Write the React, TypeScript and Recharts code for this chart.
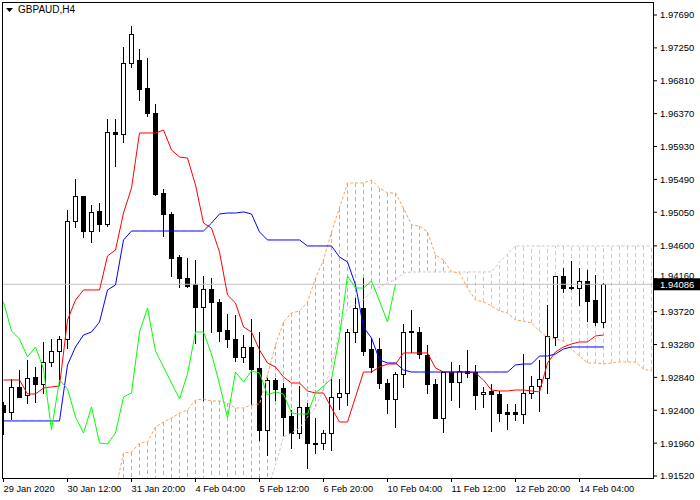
import { Bar, ComposedChart, Line, ReferenceLine, XAxis, YAxis } from 'recharts';

// GBPAUD H4 candles, one entry per bar (oldest first)
const opens = [
  1.92471, 1.92377, 1.92712, 1.92605, 1.92845, 1.92752, 1.93046, 1.93193, 1.93354, 1.94933,
  1.95268, 1.94799, 1.95067, 1.94893, 1.96124, 1.96097, 1.97048, 1.97088, 1.96713, 1.96379,
  1.95308, 1.95027, 1.94451, 1.9417, 1.9409, 1.93782, 1.94023, 1.93849, 1.93474, 1.93354,
  1.93113, 1.93247, 1.92966, 1.92136, 1.92805, 1.92698, 1.92323, 1.92096, 1.92444, 1.91962,
  1.91962, 1.92096, 1.92578, 1.92631, 1.93448, 1.93769, 1.9322, 1.9322, 1.92765, 1.92551,
  1.92886, 1.93461, 1.93448, 1.9314, 1.92752, 1.92297, 1.92912, 1.92778, 1.92926, 1.92912,
  1.92618, 1.92658, 1.92618, 1.92377, 1.92377, 1.9235, 1.92631, 1.92725, 1.92832, 1.93381,
  1.94197, 1.9405, 1.94036, 1.9413, 1.93876, 1.93581,
];
const highs = [
  1.92511, 1.92819, 1.92939, 1.93073, 1.92979, 1.93314, 1.93354, 1.93394, 1.9508, 1.95495,
  1.95268, 1.95147, 1.95174, 1.96298, 1.96298, 1.97262, 1.97543, 1.97235, 1.97115, 1.96499,
  1.95361, 1.95054, 1.94478, 1.94438, 1.94411, 1.94197, 1.9417, 1.93889, 1.93689, 1.93675,
  1.93407, 1.93622, 1.93448, 1.92832, 1.92832, 1.92765, 1.92404, 1.92725, 1.92497, 1.92297,
  1.92136, 1.92819, 1.92819, 1.93488, 1.93903, 1.9417, 1.93367, 1.93367, 1.92819, 1.92912,
  1.93555, 1.93742, 1.93515, 1.93274, 1.92819, 1.92912, 1.93046, 1.93006, 1.93207, 1.93006,
  1.92712, 1.92752, 1.92658, 1.92484, 1.92484, 1.93153, 1.92859, 1.93073, 1.93809, 1.94197,
  1.94304, 1.94398, 1.94304, 1.94277, 1.9421, 1.94103,
];
const lows = [
  1.92083, 1.92283, 1.92578, 1.92497, 1.92511, 1.92631, 1.92993, 1.92765, 1.93234, 1.94853,
  1.94719, 1.94652, 1.94799, 1.94866, 1.95669, 1.9599, 1.96994, 1.96553, 1.96338, 1.95281,
  1.94732, 1.94197, 1.9405, 1.9405, 1.933, 1.92538, 1.93448, 1.93327, 1.93247, 1.9306,
  1.93046, 1.92484, 1.92002, 1.91802, 1.92538, 1.92069, 1.91895, 1.92029, 1.91628, 1.91828,
  1.91882, 1.91868, 1.92417, 1.92471, 1.93314, 1.9314, 1.92912, 1.92698, 1.92364, 1.92176,
  1.92712, 1.9318, 1.931, 1.92631, 1.92297, 1.92109, 1.92538, 1.92444, 1.92845, 1.92417,
  1.92444, 1.92123, 1.92257, 1.92149, 1.9227, 1.9223, 1.92564, 1.9239, 1.92631, 1.93274,
  1.93983, 1.94023, 1.93809, 1.93595, 1.93541, 1.93515,
];
const closes = [
  1.92377, 1.92712, 1.92578, 1.92832, 1.92752, 1.93046, 1.93193, 1.93354, 1.94933, 1.95268,
  1.94799, 1.95054, 1.94893, 1.96124, 1.96097, 1.97048, 1.97436, 1.967, 1.96379, 1.95294,
  1.95027, 1.94438, 1.9417, 1.94063, 1.93782, 1.94023, 1.93849, 1.93461, 1.93354, 1.93113,
  1.93247, 1.92952, 1.92136, 1.92805, 1.92685, 1.9231, 1.92096, 1.92444, 1.91962, 1.91949,
  1.92096, 1.92578, 1.92631, 1.93448, 1.93769, 1.93193, 1.92979, 1.92765, 1.92551, 1.92886,
  1.93448, 1.93448, 1.93153, 1.92752, 1.92297, 1.92912, 1.92778, 1.92926, 1.92899, 1.92605,
  1.92645, 1.92618, 1.92364, 1.9235, 1.9235, 1.92631, 1.92725, 1.92819, 1.93394, 1.94197,
  1.94036, 1.94036, 1.9413, 1.93863, 1.93581, 1.94086,
];

// Ichimoku lines
const tenkan = [
  1.92805, 1.92805, 1.92805, 1.92618, 1.92618, 1.92698, 1.92712, 1.92725, 1.93608, 1.93876,
  1.9401, 1.9401, 1.9401, 1.94465, 1.94545, 1.9504, 1.95375, 1.96111, 1.96111, 1.96111,
  1.96151, 1.95883, 1.9579, 1.95776, 1.95415, 1.94906, 1.94839, 1.94518, 1.93943, 1.93836,
  1.93515, 1.93448, 1.93207, 1.93033, 1.92979, 1.92845, 1.92765, 1.92765, 1.92658, 1.92631,
  1.92631, 1.92431, 1.92243, 1.92243, 1.92578, 1.92912, 1.92912, 1.92979, 1.93019, 1.93019,
  1.93167, 1.93167, 1.93167, 1.93167, 1.92966, 1.92912, 1.92912, 1.92912, 1.92912, 1.92899,
  1.92805, 1.92671, 1.92658, 1.92658, 1.92671, 1.92671, 1.92658, 1.92645, 1.93033, 1.9318,
  1.93247, 1.93287, 1.93314, 1.93314, 1.93394, 1.93407,
];
const kijun = [
  1.92257, 1.92257, 1.92257, 1.92257, 1.92257, 1.92257, 1.92257, 1.92257, 1.93006, 1.93247,
  1.93407, 1.93448, 1.93581, 1.9401, 1.94077, 1.94679, 1.94799, 1.94799, 1.94799, 1.94799,
  1.94799, 1.94799, 1.94799, 1.94799, 1.94799, 1.94799, 1.94906, 1.95027, 1.9504, 1.9504,
  1.95054, 1.95027, 1.94786, 1.94679, 1.94679, 1.94679, 1.94679, 1.94679, 1.94599, 1.94599,
  1.94599, 1.94599, 1.94451, 1.94385, 1.94077, 1.93515, 1.93367, 1.93073, 1.93033, 1.93033,
  1.92939, 1.92912, 1.92912, 1.92912, 1.92912, 1.92912, 1.92912, 1.92912, 1.92912, 1.92912,
  1.92912, 1.92912, 1.92912, 1.92912, 1.93006, 1.93019, 1.93019, 1.93126, 1.93126, 1.93153,
  1.9322, 1.93247, 1.93247, 1.93247, 1.93247, 1.93247,
];

// cloud spans start at bar 14 and run 26 bars past the last candle
const CLOUD_START = 14;
const senkouA = [
  1.91333, 1.91828, 1.91842, 1.91962, 1.91975, 1.92176, 1.92243, 1.92297, 1.92364, 1.92404,
  1.92538, 1.92551, 1.92524, 1.92524, 1.92497, 1.92431, 1.92431, 1.92471, 1.92484, 1.92872,
  1.93274, 1.93581, 1.93702, 1.93729, 1.93849, 1.9417, 1.94411, 1.94786, 1.95107, 1.95442,
  1.95442, 1.95442, 1.95482, 1.95375, 1.95308, 1.95308, 1.95107, 1.9488, 1.94866, 1.94786,
  1.94478, 1.94411, 1.94251, 1.94237, 1.94036, 1.93876, 1.93849, 1.93796, 1.93729, 1.93702,
  1.93608, 1.93595, 1.93568, 1.93461, 1.93381, 1.93354, 1.93327, 1.9322, 1.93126, 1.93033,
  1.93033, 1.93019, 1.93033, 1.93046, 1.93046, 1.93046, 1.92952, 1.92926,
];
const senkouB = [
  1.9125, 1.9125, 1.9125, 1.9125, 1.9125, 1.9125, 1.9125, 1.9125, 1.9125, 1.9125,
  1.9125, 1.9125, 1.9125, 1.9125, 1.9125, 1.9125, 1.9125, 1.9125, 1.9125, 1.91333,
  1.91668, 1.92042, 1.92096, 1.92163, 1.9231, 1.92444, 1.92671, 1.92979, 1.93474, 1.93769,
  1.93809, 1.93876, 1.93983, 1.9405, 1.94103, 1.94144, 1.94237, 1.94251, 1.94251, 1.94251,
  1.94251, 1.94251, 1.94251, 1.94251, 1.94251, 1.94251, 1.94251, 1.94251, 1.94385, 1.94492,
  1.94599, 1.94599, 1.94599, 1.94599, 1.94599, 1.94599, 1.94599, 1.94599, 1.94599, 1.94599,
  1.94599, 1.94599, 1.94599, 1.94599, 1.94599, 1.94599, 1.94599, 1.94599,
];
const CHIKOU_SHIFT = 26;

const xTicks = [0, 8, 16, 24, 32, 40, 48, 56, 64, 72];
const xTickLabels = [
  '29 Jan 2020', '30 Jan 12:00', '31 Jan 20:00', '4 Feb 04:00', '5 Feb 12:00',
  '6 Feb 20:00', '10 Feb 04:00', '11 Feb 12:00', '12 Feb 20:00', '14 Feb 04:00',
];
const yTicks = [
  1.9769, 1.9725, 1.9681, 1.9637, 1.9593, 1.9549, 1.9505, 1.946,
  1.9416, 1.9372, 1.9328, 1.9284, 1.924, 1.9196, 1.9152,
];
const LAST_PRICE = 1.94086;

const FONT = '"Liberation Sans", Arial, sans-serif';
const SPAN_A_COLOR = '#f4a460';
const SPAN_B_COLOR = '#d8bfd8';
const BAR_TOTAL = CLOUD_START + senkouA.length;

const data = Array.from({ length: BAR_TOTAL }, (_, i) => {
  const hasCandle = i < opens.length;
  const a = i >= CLOUD_START ? senkouA[i - CLOUD_START] : null;
  const b = i >= CLOUD_START ? senkouB[i - CLOUD_START] : null;
  const vals: number[] = [];
  if (hasCandle) vals.push(highs[i], lows[i]);
  if (a != null && b != null) vals.push(a, b);
  return {
    i,
    open: hasCandle ? opens[i] : null,
    high: hasCandle ? highs[i] : null,
    low: hasCandle ? lows[i] : null,
    close: hasCandle ? closes[i] : null,
    tenkan: hasCandle ? tenkan[i] : null,
    kijun: hasCandle ? kijun[i] : null,
    chikou: closes[i + CHIKOU_SHIFT] ?? null,
    spanA: a,
    spanB: b,
    range: [Math.min(...vals), Math.max(...vals)],
  };
});

// one bar per index spanning everything drawn there: cloud hatch + candle
function CandleShape(props: any) {
  const { x, y, width, height, payload } = props;
  if (!payload) return null;
  const [lo, hi] = payload.range;
  const top = Math.min(y, y + height);
  const h = Math.abs(height);
  const span = hi - lo;
  const py = (v: number) => (span > 0 ? top + ((hi - v) / span) * h : top);
  const cx = Math.floor(x + width / 2) + 0.5;
  const parts = [];

  if (payload.spanA != null && payload.spanB != null) {
    parts.push(
      <line
        key="cloud"
        x1={cx}
        x2={cx}
        y1={py(payload.spanA)}
        y2={py(payload.spanB)}
        stroke={payload.spanA >= payload.spanB ? SPAN_A_COLOR : SPAN_B_COLOR}
        strokeWidth={1}
        strokeDasharray="4 3"
        shapeRendering="crispEdges"
      />,
    );
  }

  if (payload.open != null) {
    const bull = payload.close >= payload.open;
    const yHigh = Math.round(py(payload.high));
    const yLow = Math.round(py(payload.low));
    const bTop = Math.round(py(Math.max(payload.open, payload.close)));
    const bBot = Math.round(py(Math.min(payload.open, payload.close)));
    parts.push(<line key="wick" x1={cx} x2={cx} y1={yHigh} y2={yLow + 1} stroke="#000" />);
    if (bBot - bTop < 1) {
      parts.push(
        <line key="doji" x1={cx - 2.5} x2={cx + 2.5} y1={bTop + 0.5} y2={bTop + 0.5} stroke="#000" />,
      );
    } else {
      parts.push(
        <rect
          key="body"
          x={cx - 2}
          y={bTop + 0.5}
          width={4}
          height={bBot - bTop}
          fill={bull ? '#fff' : '#000'}
          stroke="#000"
        />,
      );
    }
  }
  return <g>{parts}</g>;
}

function XTick({ x, y, payload }: any) {
  const idx = xTicks.indexOf(payload.value);
  return (
    <text x={x} y={y} dy={8} fontSize={9.3} fontFamily={FONT} fill="#000" textAnchor="start">
      {xTickLabels[idx]}
    </text>
  );
}

function YTick({ x, y, payload }: any) {
  if (payload.value === LAST_PRICE) {
    return (
      <g>
        <rect x={x - 6} y={y - 6} width={46} height={12} fill="#000" />
        <text x={x} y={y} dy={3.4} fontSize={9.5} fontFamily={FONT} fill="#fff">
          {LAST_PRICE.toFixed(5)}
        </text>
      </g>
    );
  }
  // the level right above the price tag sits half hidden behind it, as in the terminal
  const nudge = Math.abs(payload.value - LAST_PRICE) < 0.001 ? -3 : 0;
  return (
    <text x={x} y={y + nudge} dy={3.4} fontSize={9.5} fontFamily={FONT} fill="#000">
      {payload.value.toFixed(5)}
    </text>
  );
}

export default function App() {
  return (
    <div style={{ position: 'absolute', left: 0, top: 0, width: 700, height: 500, background: '#fff' }}>
      <ComposedChart
        width={700}
        height={500}
        data={data}
        margin={{ top: 2, right: 0, bottom: 0, left: 2 }}
      >
        <XAxis
          type="number"
          dataKey="i"
          domain={[-0.1875, 81.3125]}
          allowDataOverflow
          ticks={xTicks}
          interval={0}
          tickSize={3}
          tickLine={{ stroke: '#000' }}
          axisLine={false}
          tick={XTick}
          height={21}
        />
        <YAxis
          orientation="right"
          type="number"
          domain={[1.9148, 1.97864]}
          allowDataOverflow
          ticks={[...yTicks, LAST_PRICE]}
          interval={0}
          tickSize={3}
          tickMargin={3}
          tickLine={{ stroke: '#000' }}
          axisLine={false}
          tick={YTick}
          width={46}
        />
        <ReferenceLine y={LAST_PRICE} stroke="#c0c0c0" />
        <Bar dataKey="range" barSize={6} shape={CandleShape} isAnimationActive={false} />
        <Line dataKey="spanA" stroke={SPAN_A_COLOR} strokeDasharray="3 2" dot={false} activeDot={false} isAnimationActive={false} />
        <Line dataKey="spanB" stroke={SPAN_B_COLOR} strokeDasharray="3 2" dot={false} activeDot={false} isAnimationActive={false} />
        <Line dataKey="tenkan" stroke="#ff0000" dot={false} activeDot={false} isAnimationActive={false} />
        <Line dataKey="kijun" stroke="#0000ff" dot={false} activeDot={false} isAnimationActive={false} />
        <Line dataKey="chikou" stroke="#00ff00" dot={false} activeDot={false} isAnimationActive={false} />
      </ComposedChart>
      <div
        style={{
          position: 'absolute',
          left: 2,
          top: 2,
          width: 652,
          height: 477,
          boxSizing: 'border-box',
          border: '1px solid #000',
          pointerEvents: 'none',
        }}
      />
      <div
        style={{
          position: 'absolute',
          left: 6,
          top: 4,
          display: 'flex',
          alignItems: 'center',
          gap: 5,
          fontFamily: FONT,
          fontSize: 10,
          color: '#000',
        }}
      >
        <svg width={7} height={4}>
          <polygon points="0,0 7,0 3.5,4" fill="#000" />
        </svg>
        <span>GBPAUD,H4</span>
      </div>
    </div>
  );
}
